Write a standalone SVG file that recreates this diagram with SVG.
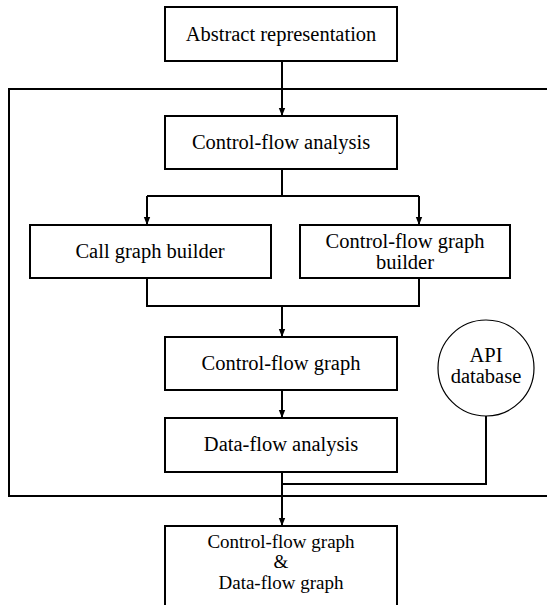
<svg xmlns="http://www.w3.org/2000/svg" width="547" height="605" viewBox="0 0 547 605">
<style>
.box{fill:#fff;stroke:#000;stroke-width:2}
.ln{fill:none;stroke:#000;stroke-width:2}
text{font-family:'Liberation Serif','Times New Roman',Times,'DejaVu Serif',serif;font-size:20.5px;fill:#000;text-anchor:middle}
.sm{font-size:19px}
</style>
<defs>
<marker id="ah" viewBox="0 0 10 10" refX="10" refY="5" markerWidth="8" markerHeight="9" markerUnits="userSpaceOnUse" orient="auto">
<path d="M0,1 L10,5 L0,9 z" fill="#000"/>
</marker>
</defs>
<g id="frame"><path class="ln" d="M548,89 H9 V496 H548"/></g>
<g id="connectors">
<path class="ln" d="M282,61 V116" marker-end="url(#ah)"/>
<path class="ln" d="M282,169 V196"/>
<path class="ln" d="M147,196 H419"/>
<path class="ln" d="M147,196 V225" marker-end="url(#ah)"/>
<path class="ln" d="M419,196 V225" marker-end="url(#ah)"/>
<path class="ln" d="M147,278 V306 H419 V278"/>
<path class="ln" d="M282,306 V337" marker-end="url(#ah)"/>
<path class="ln" d="M282,390 V418" marker-end="url(#ah)"/>
<path class="ln" d="M282,472 V526" marker-end="url(#ah)"/>
<path class="ln" d="M486,416 V484 H282"/>
</g>
<g id="abstract"><rect class="box" x="165" y="7" width="232" height="54"/><text x="281" y="41">Abstract representation</text></g>
<g id="cfa"><rect class="box" x="165" y="116" width="232" height="53"/><text x="281" y="149">Control-flow analysis</text></g>
<g id="cgb"><rect class="box" x="30" y="225" width="241" height="53"/><text x="150" y="258">Call graph builder</text></g>
<g id="cfgb"><rect class="box" x="300" y="225" width="210" height="53"/><text x="405" y="248">Control-flow graph</text><text x="405" y="269">builder</text></g>
<g id="cfg"><rect class="box" x="165" y="337" width="232" height="53"/><text x="281" y="370">Control-flow graph</text></g>
<g id="dfa"><rect class="box" x="165" y="418" width="232" height="54"/><text x="281" y="451">Data-flow analysis</text></g>
<g id="api"><circle cx="486" cy="368" r="48" fill="#fff" stroke="#000" stroke-width="1.2"/><text x="486" y="362">API</text><text x="486" y="383">database</text></g>
<g id="out"><rect class="box" x="165" y="526" width="232" height="90"/><text class="sm" x="281" y="548">Control-flow graph</text><text class="sm" x="281" y="568">&amp;</text><text class="sm" x="281" y="589">Data-flow graph</text></g>
</svg>
